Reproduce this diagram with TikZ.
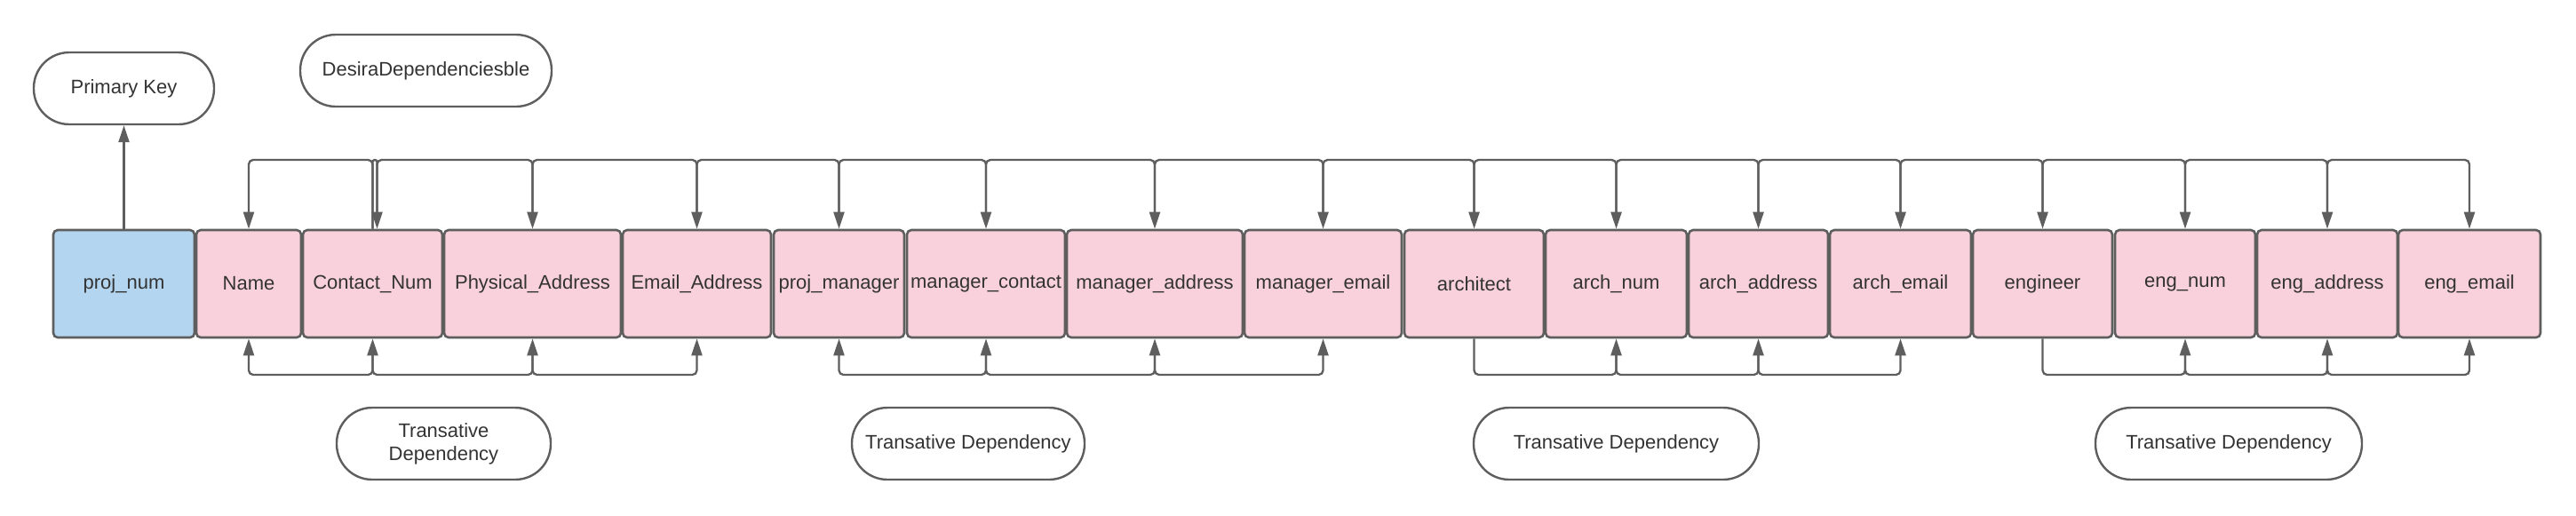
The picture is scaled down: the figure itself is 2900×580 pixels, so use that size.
\documentclass[tikz,border=0pt]{standalone}
\usepackage{fontspec}
\setmainfont{Liberation Sans}
\usetikzlibrary{arrows.meta,calc}
\definecolor{bordergray}{HTML}{5E5E5E}
\definecolor{pinkfill}{HTML}{F8D1DC}
\definecolor{bluefill}{HTML}{B3D5EF}
\definecolor{txt}{HTML}{333333}
\begin{document}
\begin{tikzpicture}[x=0.5pt,y=-0.5pt,
  attr/.style={draw=bordergray, line width=1.3pt, fill=pinkfill, rounded corners=2.5pt,
    minimum height=60.5pt, inner sep=0pt, text=txt, font=\fontsize{11}{13}\selectfont},
  keyattr/.style={attr, fill=bluefill},
  stadium/.style={draw=bordergray, line width=1.2pt, fill=white, rounded corners=20pt,
    minimum height=40.5pt, inner sep=0pt, text=txt, align=center, font=\fontsize{11}{13}\selectfont},
  conn/.style={draw=bordergray, line width=1.15pt, rounded corners=2.5pt},
  endarrow/.style={-{Triangle[length=9.5pt,width=6pt]}},
  botharrow/.style={{Triangle[length=9.5pt,width=6pt]}-{Triangle[length=9.5pt,width=6pt]}},
]
\useasboundingbox (0,0) rectangle (2900,580);

% attribute boxes
\node[keyattr, minimum width=79.5pt] (pn) at (139.5,319.5) {proj\_num};
\node[attr, minimum width=59pt]   (nm) at (280,319.5)   {Name};
\node[attr, minimum width=78.5pt] (cn) at (419.5,319.5) {Contact\_Num};
\node[attr, minimum width=99.5pt] (pa) at (599.5,319.5) {Physical\_Address};
\node[attr, minimum width=83.5pt] (ea) at (784.5,319.5) {Email\_Address};
\node[attr, minimum width=73.5pt] (pm) at (944.5,319.5) {proj\_manager};
\node[attr, minimum width=89pt]   (mc) at (1110,319.5)  {manager\_contact};
\node[attr, minimum width=99pt]   (ma) at (1300,319.5)  {manager\_address};
\node[attr, minimum width=88.5pt] (me) at (1489.5,319.5) {manager\_email};
\node[attr, minimum width=78.5pt] (ar) at (1659.5,319.5) {architect};
\node[attr, minimum width=79.5pt] (an) at (1819.5,319.5) {arch\_num};
\node[attr, minimum width=78.5pt] (aa) at (1979.5,319.5) {arch\_address};
\node[attr, minimum width=79.5pt] (ae) at (2139.5,319.5) {arch\_email};
\node[attr, minimum width=78.5pt] (en) at (2299.5,319.5) {engineer};
\node[attr, minimum width=79pt]   (nn) at (2460,319.5)  {eng\_num};
\node[attr, minimum width=79pt]   (na) at (2620,319.5)  {eng\_address};
\node[attr, minimum width=80pt]   (ne) at (2780,319.5)  {eng\_email};

% labels
\node[stadium, minimum width=101.5pt] (pk) at (139.5,99.5) {Primary Key};
\node[stadium, minimum width=141.5pt] (dd) at (479.5,79.5) {DesiraDependenciesble};
\node[stadium, minimum width=120.5pt] (td1) at (499.5,499.5) {Transative\\Dependency};
\node[stadium, minimum width=131pt] (td2) at (1090,499.5) {Transative Dependency};
\node[stadium, minimum width=160.5pt] (td3) at (1819.5,499.5) {Transative Dependency};
\node[stadium, minimum width=150pt] (td4) at (2509,499.5) {Transative Dependency};

% primary key connector
\draw[conn, endarrow] (pn.north) -- (pk.south);

% top bus
\coordinate (top) at (0,180);
\coordinate (bot) at (0,422);
\coordinate (cnin) at ($(cn.north)+(5,0)$);
\draw[conn, endarrow] (cn.north) -- (cn.north |- top) -- (nm.north |- top) -- (nm.north);
\draw[conn, endarrow, rounded corners=1.2pt] (cn.north) -- (cn.north |- top) -- (cnin |- top) -- (cnin);
\foreach \a/\b in {cnin/pa.north, pa.north/ea.north, ea.north/pm.north, pm.north/mc.north,
  mc.north/ma.north, ma.north/me.north, me.north/ar.north, ar.north/an.north, an.north/aa.north,
  aa.north/ae.north, ae.north/en.north, en.north/nn.north, nn.north/na.north, na.north/ne.north}
  \draw[conn, endarrow] ([yshift=9pt]\a) -- (\a |- top) -- (\b |- top) -- (\b);

% bottom buses
\draw[conn, botharrow] (nm.south) -- (nm.south |- bot) -- (cn.south |- bot) -- (cn.south);
\draw[conn, botharrow] (pm.south) -- (pm.south |- bot) -- (mc.south |- bot) -- (mc.south);
\foreach \a/\b in {cn/pa, pa/ea, mc/ma, ma/me}
  \draw[conn, endarrow] ([yshift=-9pt]\a.south) -- (\a.south |- bot) -- (\b.south |- bot) -- (\b.south);
\draw[conn, endarrow] (ar.south) -- (ar.south |- bot) -- (an.south |- bot) -- (an.south);
\draw[conn, endarrow] (en.south) -- (en.south |- bot) -- (nn.south |- bot) -- (nn.south);
\foreach \a/\b in {an/aa, aa/ae, nn/na, na/ne}
  \draw[conn, endarrow] ([yshift=-9pt]\a.south) -- (\a.south |- bot) -- (\b.south |- bot) -- (\b.south);
\end{tikzpicture}
\end{document}
